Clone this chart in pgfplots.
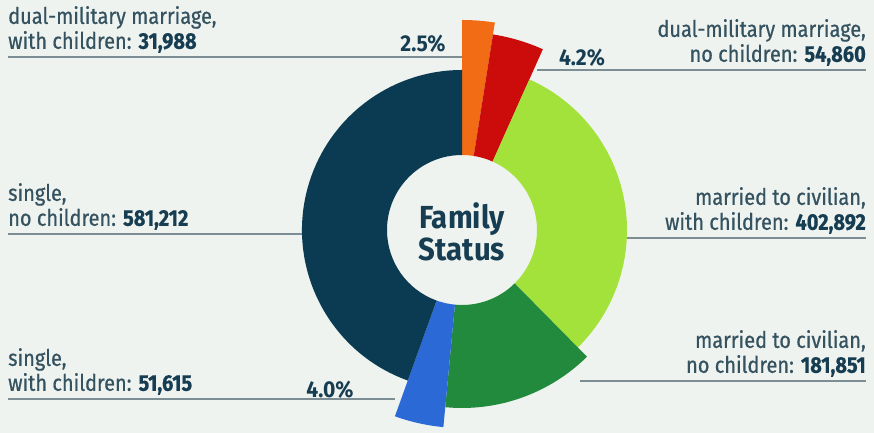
\documentclass[border=0pt]{standalone}
\usepackage{pgfplots}
\pgfplotsset{compat=1.18}
\usepackage{pgfplotstable}
\usepackage{fontspec}
\setmainfont{Fira Sans}[FakeStretch=0.92]
\newfontfamily\labfont{Fira Sans}[FakeStretch=0.88, FakeBold=0.6]
\definecolor{bgc}{HTML}{EFF3EF}
\definecolor{cOrange}{HTML}{F26B15}
\definecolor{cRed}{HTML}{CC0B0B}
\definecolor{cLight}{HTML}{A3E23B}
\definecolor{cDark}{HTML}{228A3C}
\definecolor{cBlue}{HTML}{2B6AD6}
\definecolor{cNavy}{HTML}{0B3B53}
\definecolor{labc}{HTML}{34525F}
\definecolor{numc}{HTML}{173D52}
\definecolor{linec}{HTML}{7C8D93}

% segment: centre, percent, start angle, end angle, outer radius (px), colour index
\pgfplotstableread{
cx  cy  pct  sa     ea     ro   ci
462 203 2.5  81.0   90.0   210  0
462 203 4.2  65.9   81.0   198  1
462 203 30.9 -45.4  65.9   165  2
462 203 13.9 -95.4  -45.4  178  3
462 203 4.0  -109.8 -95.4  198  4
462 203 44.6 90.0   250.2  160  5
}\wedges

\newcommand{\lab}{\labfont\fontsize{22.8}{25}\selectfont\color{labc}}
\newcommand{\num}[1]{\textbf{\color{numc}#1}}
\newcommand{\wedgecolor}[1]{\ifcase#1 cOrange\or cRed\or cLight\or cDark\or cBlue\else cNavy\fi}

\begin{document}
\begin{tikzpicture}
\begin{axis}[x=1bp,y=1bp,xmin=0,xmax=874,ymin=0,ymax=433,
  hide axis, clip=false]
\fill[bgc] (rel axis cs:0,0) rectangle (rel axis cs:1,1);

% leader lines
\addplot[linec, line width=1.8bp] coordinates {(8,376) (462,376)};
\addplot[linec, line width=1.8bp] coordinates {(537,363) (866,363)};
\addplot[linec, line width=1.8bp] coordinates {(8,199) (305,199)};
\addplot[linec, line width=1.8bp] coordinates {(625,195) (866,195)};
\addplot[linec, line width=1.8bp] coordinates {(8,34) (395,34)};
\addplot[linec, line width=1.8bp] coordinates {(580,52) (866,52)};

% donut wedges
\addplot[scatter, only marks, mark=*, mark size=0pt, draw=none, fill=none,
  visualization depends on={\thisrow{sa} \as \wsa},
  visualization depends on={\thisrow{ea} \as \wea},
  visualization depends on={\thisrow{ro} \as \wro},
  visualization depends on={\thisrow{ci} \as \wci},
  scatter/@pre marker code/.code={%
    \pgfmathtruncatemacro{\wk}{\wci}%
    \edef\wcol{\wedgecolor{\wk}}%
    \fill[color=\wcol] (\wsa:75bp) arc[start angle=\wsa, end angle=\wea, radius=75bp]
      -- (\wea:\wro bp) arc[start angle=\wea, end angle=\wsa, radius=\wro bp] -- cycle;
  },
  scatter/@post marker code/.code={}
] table[x=cx, y=cy] {\wedges};

% centre
\node[font=\bfseries\fontsize{32}{32}\selectfont, text=numc, align=center]
  at (axis cs:462,201) {Family\\Status};

% percentages
\node[font=\bfseries\fontsize{23}{24}\selectfont, text=numc] at (axis cs:423,389) {2.5\%};
\node[font=\bfseries\fontsize{23}{24}\selectfont, text=numc] at (axis cs:582,375) {4.2\%};
\node[font=\bfseries\fontsize{23}{24}\selectfont, text=white] at (axis cs:346,214) {44.6\%};
\node[font=\bfseries\fontsize{23}{24}\selectfont, text=numc] at (axis cs:580,212) {30.9\%};
\node[font=\bfseries\fontsize{23}{24}\selectfont, text=white] at (axis cs:528,59) {13.9\%};
\node[font=\bfseries\fontsize{23}{24}\selectfont, text=numc] at (axis cs:330,43) {4.0\%};

% labels
\node[anchor=south west, inner sep=0pt, align=left, font=\lab] at (axis cs:8,380)
  {dual-military marriage,\\with children: \num{31,988}};
\node[anchor=south east, inner sep=0pt, align=right, font=\lab] at (axis cs:866,367)
  {dual-military marriage,\\no children: \num{54,860}};
\node[anchor=south west, inner sep=0pt, align=left, font=\lab] at (axis cs:8,203)
  {single,\\no children: \num{581,212}};
\node[anchor=south east, inner sep=0pt, align=right, font=\lab] at (axis cs:866,199)
  {married to civilian,\\with children: \num{402,892}};
\node[anchor=south west, inner sep=0pt, align=left, font=\lab] at (axis cs:8,38)
  {single,\\with children: \num{51,615}};
\node[anchor=south east, inner sep=0pt, align=right, font=\lab] at (axis cs:866,56)
  {married to civilian,\\no children: \num{181,851}};
\end{axis}
\end{tikzpicture}
\end{document}
